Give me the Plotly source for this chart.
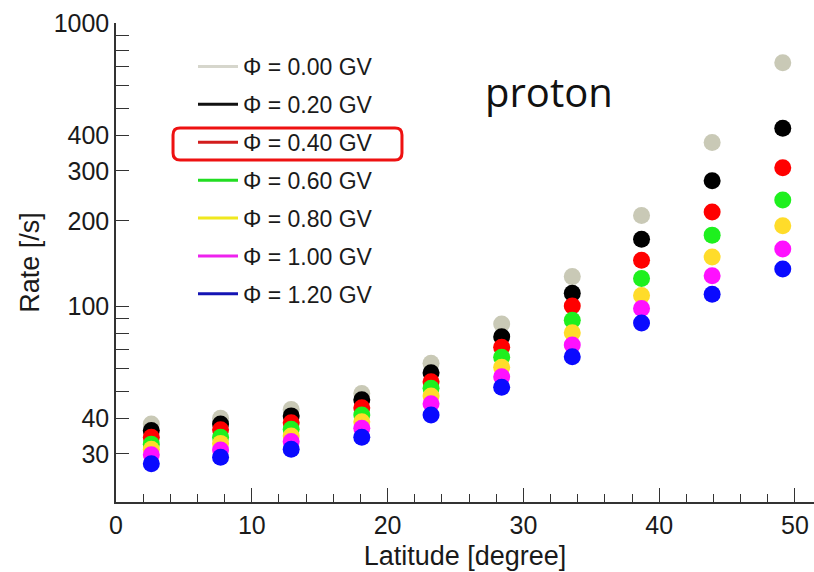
import plotly.graph_objects as go

# Latitude bin centres [degree]
latitude = [2.6, 7.7, 12.9, 18.1, 23.2, 28.4, 33.6, 38.7, 43.9, 49.1]

# Proton counting rate [/s] for each solar modulation potential
rate_000 = [38.3, 40.1, 43.1, 49.1, 62.7, 86.4, 127, 209, 378, 724]
rate_020 = [36.3, 38.3, 40.9, 46.6, 58.1, 77.9, 111, 172, 277, 425]
rate_040 = [34.4, 36.5, 38.7, 43.7, 54.0, 71.5, 100, 145, 215, 308]
rate_060 = [32.5, 34.4, 36.7, 41.2, 51.2, 65.9, 89, 125, 178, 237]
rate_080 = [31.2, 32.7, 34.7, 39.0, 48.1, 60.7, 80.5, 109, 149, 192]
rate_100 = [29.8, 31.0, 33.2, 37.0, 45.1, 56.2, 72.8, 98, 128, 159]
rate_120 = [27.7, 29.2, 31.2, 34.4, 41.2, 51.6, 66.2, 87, 110, 135]

series_labels = ["Φ = 0.00 GV", "Φ = 0.20 GV", "Φ = 0.40 GV", "Φ = 0.60 GV",
                 "Φ = 0.80 GV", "Φ = 1.00 GV", "Φ = 1.20 GV"]
series_rates = [rate_000, rate_020, rate_040, rate_060, rate_080, rate_100, rate_120]
marker_colors = ["#c9c9b6", "#000000", "#ff0000", "#1ef01e", "#ffdc2a", "#ff10ff", "#0a0aff"]
legend_colors = ["#d6d6cc", "#111111", "#d21c1c", "#22dd22", "#f0e81e", "#ee22ee", "#1414b4"]

y_tickvals = [30, 40, 50, 60, 70, 80, 90, 100, 200, 300, 400, 500, 600, 700, 800, 900, 1000]
y_ticktext = ["30", "40", "", "", "", "", "", "100", "200", "300", "400", "", "", "", "", "", "1000"]

AXIS_FONT = "Liberation Sans, Arial, sans-serif"

fig = go.Figure()

for label, rates, mcol, lcol in zip(series_labels, series_rates, marker_colors, legend_colors):
    fig.add_trace(go.Scatter(
        x=latitude, y=rates, mode="markers",
        marker=dict(size=17, color=mcol, line=dict(width=0)),
        showlegend=False, legendgroup=label,
    ))
    # legend entry drawn as a line sample
    fig.add_trace(go.Scatter(
        x=[None], y=[None], mode="lines", name=label,
        line=dict(color=lcol, width=3), legendgroup=label,
    ))

# Highlight box around the 0.40 GV legend entry (paper coordinates)
x0, x1, y0, y1 = 0.0817, 0.4097, 0.714, 0.7808
rx, ry = 0.010, 0.0146
path = (f"M {x0+rx},{y0} L {x1-rx},{y0} Q {x1},{y0} {x1},{y0+ry} "
        f"L {x1},{y1-ry} Q {x1},{y1} {x1-rx},{y1} "
        f"L {x0+rx},{y1} Q {x0},{y1} {x0},{y1-ry} "
        f"L {x0},{y0+ry} Q {x0},{y0} {x0+rx},{y0} Z")
fig.add_shape(type="path", path=path, xref="paper", yref="paper",
              line=dict(color="#ee1111", width=3))

fig.add_annotation(text="proton", xref="paper", yref="paper",
                   x=(549 - 116) / 698, y=(502 - 92) / 479,
                   xanchor="center", yanchor="middle", showarrow=False,
                   font=dict(family="Open Sans, sans-serif", size=40, color="#111111"))

fig.update_layout(
    width=814, height=572,
    margin=dict(l=116, r=0, t=23, b=70),
    plot_bgcolor="white", paper_bgcolor="white",
    font=dict(family=AXIS_FONT, color="#1a1a1a"),
    legend=dict(
        x=(193 - 116) / 698, y=(502 - 45) / 479, xanchor="left", yanchor="top",
        bgcolor="rgba(0,0,0,0)", font=dict(size=23, family=AXIS_FONT, color="#1a1a1a"),
        tracegroupgap=5, itemwidth=40,
    ),
    xaxis=dict(
        range=[0, 51.4], showgrid=False, zeroline=False,
        showline=True, linecolor="#333333", linewidth=1.5,
        ticks="inside", ticklen=14, tickwidth=1.3, tickcolor="#333333",
        tickvals=[0, 10, 20, 30, 40, 50],
        tickfont=dict(size=25),
        minor=dict(ticks="inside", ticklen=8, tickwidth=1.3, tickcolor="#333333", dtick=2, tick0=0),
        title=dict(text="Latitude [degree]", font=dict(size=27), standoff=8),
    ),
    yaxis=dict(
        type="log", range=[1.3074, 3.0], showgrid=False, zeroline=False,
        showline=True, linecolor="#333333", linewidth=1.5,
        ticks="inside", ticklen=13, tickwidth=1.3, tickcolor="#333333",
        tickvals=y_tickvals, ticktext=y_ticktext,
        tickfont=dict(size=25),
        title=dict(text="Rate [/s]", font=dict(size=27), standoff=6),
    ),
)

fig.write_html("out.html")
